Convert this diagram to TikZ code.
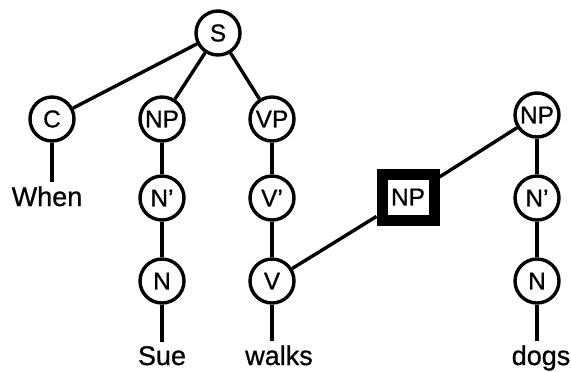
\documentclass[tikz,border=0pt]{standalone}
\usepackage{fontspec}
\setmainfont{Liberation Sans}[Ligatures=ResetAll,FakeBold=0.8]
\usepackage{tikz}

\begin{document}
\begin{tikzpicture}[x=0.5pt,y=-0.5pt]
  \tikzstyle{cat}=[draw,circle,line width=1.7pt,minimum size=22pt,inner sep=0pt,font=\fontsize{12.2}{14}\selectfont]
  \tikzstyle{gapbox}=[draw,rectangle,line width=5.5pt,minimum width=26pt,minimum height=23pt,inner sep=0pt,font=\fontsize{12.2}{14}\selectfont]
  \tikzstyle{word}=[anchor=base,inner sep=2pt,font=\fontsize{13.5}{15}\selectfont]
  \tikzstyle{br}=[line width=1.7pt]
  \useasboundingbox (0,0) rectangle (571,371);

  % Root
  \node[cat] (s) at (218,33) {S};

  % Level 1
  \node[cat] (c) at (52,119) {C};
  \node[cat] (np1) at (162,119) {NP};
  \node[cat] (vp) at (272,119) {VP};
  \node[cat] (np2) at (537,115) {NP};
  \draw[br] (s) -- (c);
  \draw[br] (s) -- (np1);
  \draw[br] (s) -- (vp);

  % Level 2
  \node[word] (when) at (47,206) {When};
  \node[cat] (nbar1) at (162,198) {N'};
  \node[cat] (vbar) at (272,198) {V'};
  \node[gapbox] (gap) at (408,197) {NP};
  \node[cat] (nbar2) at (537,198) {N'};
  \draw[br] (c) -- (c |- when.north);
  \draw[br] (np1) -- (nbar1);
  \draw[br] (vp) -- (vbar);
  \draw[br] (np2) -- (nbar2);

  % Level 3
  \node[cat] (n1) at (162,281) {N};
  \node[cat] (v) at (272,281) {V};
  \node[cat] (n2) at (537,281) {N};
  \draw[br] (nbar1) -- (n1);
  \draw[br] (vbar) -- (v);
  \draw[br] (nbar2) -- (n2);
  \draw[br] (v) -- (gap);
  \draw[br] (gap) -- (np2);

  % Words
  \node[word] (sue) at (162,365) {Sue};
  \node[word] (walks) at (279,365) {walks};
  \node[word] (dogs) at (541,365) {dogs};
  \draw[br] (n1) -- (n1 |- sue.north);
  \draw[br] (v) -- (v |- walks.north);
  \draw[br] (n2) -- (n2 |- dogs.north);
\end{tikzpicture}
\end{document}
